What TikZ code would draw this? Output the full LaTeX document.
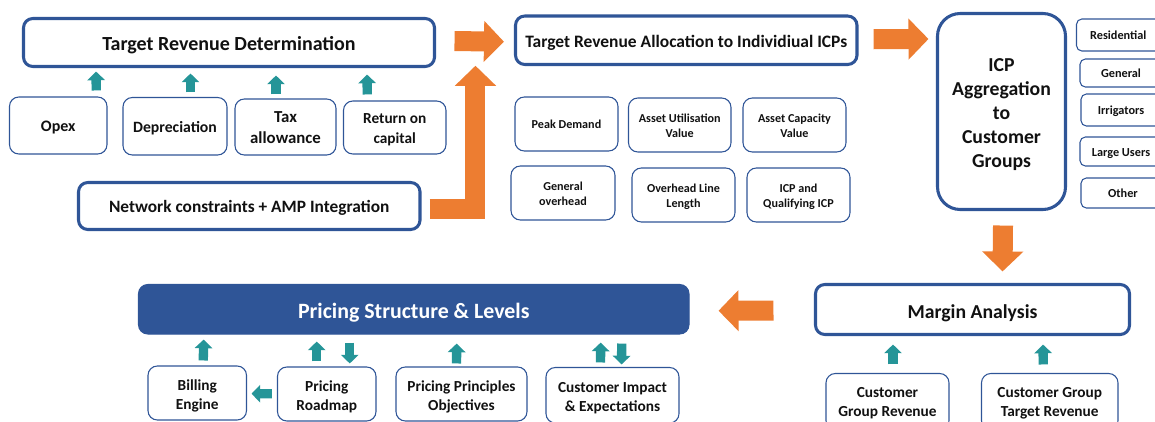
\documentclass[tikz,border=0pt]{standalone}
\usepackage{fontspec}
\setmainfont{Carlito}
\usetikzlibrary{arrows.meta,calc}
\definecolor{bluebox}{HTML}{2F5597}
\definecolor{tealar}{HTML}{259598}
\definecolor{orangear}{HTML}{ED7D31}
\definecolor{inktext}{HTML}{111111}
\newcommand\fpx[2]{\fontsize{#1}{#2}\selectfont\bfseries}
\newcommand\bxs{0pt}
\newcommand\bx[7][]{%
  \pgfmathsetmacro\bxcx{(#3+#5)/2}\pgfmathsetmacro\bxcy{(#4+#6)/2}%
  \node[#1,minimum width={(#5-#3)*0.75pt},minimum height={(#6-#4)*0.75pt}] (#2) at (\bxcx,\bxcy)
    {\raisebox{-\bxs}[\height][\depth]{\begin{tabular}{@{}c@{}}#7\end{tabular}}};}
\tikzset{
  drop/.code={\renewcommand\bxs{#1}},
  basebox/.style={rounded corners=7pt,inner sep=0pt,text=inktext,draw=bluebox},
  thickbox/.style={basebox,line width=2.3pt,font=\fpx{13}{16},drop=2.7pt},
  midbox/.style={basebox,line width=0.8pt,font=\fpx{11.5}{14},drop=1.8pt},
  smallbox/.style={basebox,line width=0.8pt,font=\fpx{9.1}{11.2},drop=1.5pt},
  sidebox/.style={basebox,line width=0.8pt,rounded corners=4pt,font=\fpx{9.2}{11},drop=1.5pt},
  upt/.style={draw=tealar,line width=7pt,-{Triangle[length=6.5pt,width=13pt]}},
  ora/.style={draw=orangear,line width=15pt,-{Triangle[length=15pt,width=30pt]}},
}
\begin{document}
\begin{tikzpicture}[x=0.75pt,y=-0.75pt]
\useasboundingbox (0,0) rectangle (1155,421);
\clip (0,0) rectangle (1155,421);
% upper left
\bx[thickbox,font=\fpx{15}{18}]{trd}{23.5}{18.5}{434.5}{66.5}{Target Revenue Determination}
\bx[midbox,font=\fpx{12}{15},drop=1.2pt]{opex}{9.5}{97}{107}{154}{Opex}
\bx[midbox,font=\fpx{11.8}{15}]{depr}{123}{97.5}{227}{155}{Depreciation}
\bx[midbox,font=\fpx{12.6}{15.5},drop=1.2pt]{tax}{235}{99}{336}{155}{Tax\\allowance}
\bx[midbox,font=\fpx{11.5}{15}]{ret}{343.5}{101}{446}{154}{Return on\\capital}
\bx[thickbox,drop=2pt]{net}{78.5}{182.5}{420}{229.5}{Network constraints + AMP Integration}
% allocation
\bx[thickbox,font=\fpx{13.1}{15}]{tra}{515.5}{16}{857}{64.5}{Target Revenue Allocation to Individiual ICPs}
\bx[smallbox]{peak}{515}{97}{618}{151}{Peak Demand}
\bx[smallbox]{util}{628.5}{98}{731}{152}{Asset Utilisation\\Value}
\bx[smallbox]{capa}{743}{98}{846}{152}{Asset Capacity\\Value}
\bx[smallbox]{genov}{511}{166}{615}{220}{General\\overhead}
\bx[smallbox]{line}{632}{168}{735}{222}{Overhead Line\\Length}
\bx[smallbox]{qual}{747}{168}{850}{222}{ICP and\\Qualifying ICP}
% aggregation
\bx[thickbox,rounded corners=17pt,font=\fpx{14.8}{18},drop=2.3pt]{agg}{937.5}{13.5}{1065.5}{209.5}{ICP\\Aggregation\\to\\Customer\\Groups}
\bx[sidebox]{resi}{1076.5}{19}{1160}{51}{Residential}
\bx[sidebox]{gene}{1080}{59}{1162}{87}{General}
\bx[sidebox]{irri}{1081}{94}{1161}{126}{Irrigators}
\bx[sidebox]{larg}{1080}{137}{1162}{166}{Large Users}
\bx[sidebox]{othe}{1081}{178}{1165}{208}{Other}
% margin
\bx[thickbox,font=\fpx{14.8}{18},drop=3pt]{marg}{815.5}{284.5}{1129.5}{334.5}{Margin Analysis}
\bx[midbox,drop=1.2pt]{cgr}{826}{373.5}{949}{430}{Customer\\Group Revenue}
\bx[midbox,drop=1.2pt]{cgt}{981.5}{373.5}{1118}{430}{Customer Group\\Target Revenue}
% pricing
\bx[basebox,fill=bluebox,text=white,line width=0.8pt,font=\fpx{16.4}{20},drop=3pt]{pric}{138.5}{284.5}{689}{334}{Pricing Structure \& Levels}
\bx[midbox,drop=2.2pt]{bill}{148}{366}{246.5}{420}{Billing\\Engine}
\bx[midbox,drop=2.2pt]{road}{277.5}{367}{376}{421}{Pricing\\Roadmap}
\bx[midbox,drop=2.2pt]{prin}{396}{367}{527}{421}{Pricing Principles\\Objectives}
\bx[midbox,drop=2.2pt]{cust}{546}{367.5}{679}{423}{Customer Impact\\\& Expectations}
% teal arrows, upper left
\draw[upt] ($(opex.north)+(38,-6)$) -- ($(trd.south)+(-133,3.5)$);
\draw[upt] ($(depr.north)+(15.5,-4.5)$) -- ($(trd.south)+(-38.5,5.5)$);
\draw[upt] ($(tax.north)+(-9.5,-4)$) -- ($(trd.south)+(47,7.5)$);
\draw[upt] ($(ret.north)+(-27.5,-6)$) -- ($(trd.south)+(138,6.5)$);
% teal arrows, margin
\draw[upt] ($(cgr.north)+(5.5,-8.5)$) -- ($(marg.south)+(-79.5,8.5)$);
\draw[upt] ($(cgt.north)+(-6.5,-8.5)$) -- ($(marg.south)+(70.5,8.5)$);
% teal arrows, pricing
\draw[upt] ($(bill.north)+(6,-5)$) -- ($(pric.south)+(-210,5)$);
\draw[upt] ($(road.north)+(-10,-5)$) -- ($(pric.south)+(-97,7)$);
\draw[upt] ($(pric.south)+(-64,8)$) -- ($(road.north)+(23,-3)$);
\draw[upt] ($(prin.north)+(-5,-3)$) -- ($(pric.south)+(43,9)$);
\draw[upt] ($(cust.north)+(-12,-4.5)$) -- ($(pric.south)+(187,8)$);
\draw[upt] ($(pric.south)+(208,9)$) -- ($(cust.north)+(9,-2.5)$);
\draw[upt] ($(road.west)+(-5,-0.3)$) -- ($(bill.east)+(4.5,0.7)$);
% orange arrows
\draw[ora] ($(trd.east)+(18.5,-1.5)$) -- ($(tra.west)+(-10,1.5)$);
\draw[ora,line cap=butt,line join=miter] ($(net.east)+(8,3)$) -| ($(tra.west)+(-38.5,25.5)$);
\draw[ora] ($(tra.east)+(15,-1)$) -- ($(agg.west)+(-7.5,-72.5)$);
\draw[ora] ($(agg.south)+(1.5,14.5)$) -- ($(marg.north)+(30,-11.5)$);
\draw[ora] ($(marg.west)+(-40.5,1)$) -- ($(pric.east)+(29,1.5)$);
\end{tikzpicture}
\end{document}
